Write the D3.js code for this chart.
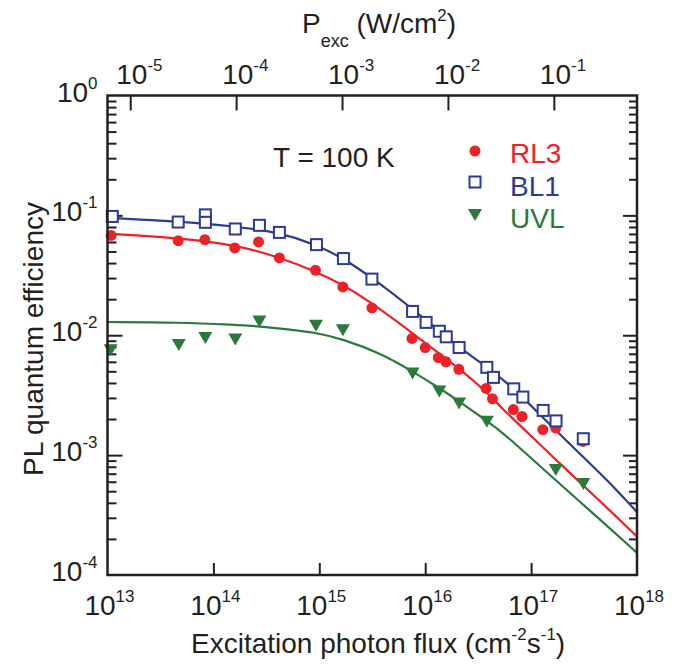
<!DOCTYPE html>
<html>
<head>
<meta charset='UTF-8'>
<title>PL quantum efficiency</title>
<script src='https://d3js.org/d3.v7.min.js'></script>
<style>
    body { margin: 0; background: #fff; }
    text { font-family: 'Liberation Sans', Arial, sans-serif; fill: #231f20; }
</style>
</head>
<body>
<div id='chart'></div>

<script type='text/javascript'>

    // axis ticks
    var fluxTicks = [1e13, 1e14, 1e15, 1e16, 1e17, 1e18];
    var effTicks = [1e-4, 1e-3, 1e-2, 1e-1, 1];
    var powerTicks = [1e-5, 1e-4, 1e-3, 1e-2, 1e-1];
    var photonEnergy = 6.1e-19; // J, converts photon flux to W/cm2

    // measured points
    var rl3Flux = [1.08e13, 4.65e13, 8.3e13, 1.59e14, 2.67e14, 4.2e14, 9.2e14, 1.67e15, 3.14e15, 7.5e15,
                   1.0e16, 1.33e16, 1.57e16, 2.08e16, 3.76e16, 4.32e16, 6.8e16, 8.2e16, 1.29e17, 1.71e17, 3.08e17];
    var rl3Eff = [0.068, 0.0615, 0.0627, 0.0535, 0.06, 0.0442, 0.0348, 0.0253, 0.0169, 0.0094,
                  0.0079, 0.0065, 0.006, 0.0052, 0.0036, 0.00295, 0.0024, 0.0021, 0.00163, 0.00168, 0.0013];

    var bl1Flux = [1.11e13, 4.65e13, 8.4e13, 8.4e13, 1.61e14, 2.72e14, 4.2e14, 9.4e14, 1.69e15, 3.14e15, 7.6e15,
                   1.02e16, 1.36e16, 1.58e16, 2.09e16, 3.82e16, 4.41e16, 6.86e16, 8.36e16, 1.30e17, 1.72e17, 3.11e17];
    var bl1Eff = [0.098, 0.088, 0.101, 0.0875, 0.077, 0.0826, 0.0721, 0.057, 0.0436, 0.0294, 0.0158,
                  0.0128, 0.0108, 0.0097, 0.0079, 0.0054, 0.00445, 0.00357, 0.00305, 0.00236, 0.00193, 0.00137];

    var uvlFlux = [1.07e13, 4.71e13, 8.4e13, 1.61e14, 2.72e14, 9.3e14, 1.67e15, 7.6e15, 1.36e16, 2.09e16, 3.82e16, 1.71e17, 3.11e17];
    var uvlEff = [0.0075, 0.0083, 0.0095, 0.0092, 0.013, 0.012, 0.011, 0.0048, 0.0034, 0.0027, 0.0019, 0.00075, 0.000575];

    // fitted curves
    var rl3FitFlux = [1e13, 4.65e13, 1.6e14, 4.2e14, 9.2e14, 1.67e15, 3.14e15, 7.6e15, 2.09e16, 3.81e16, 5.1e16, 9.8e16, 1.68e17, 3.1e17, 5.94e17, 1e18];
    var rl3FitEff = [0.0705, 0.0649, 0.057, 0.0447, 0.0341, 0.0264, 0.0186, 0.0104, 0.0053, 0.00336, 0.00254, 0.00147, 0.00093, 0.00056, 0.000326, 0.000209];

    var bl1FitFlux = [1e13, 4.65e13, 1.6e14, 4.2e14, 9.4e14, 1.7e15, 3.15e15, 7.6e15, 2.09e16, 3.81e16, 6.84e16, 1.3e17, 3.1e17, 5.94e17, 1e18];
    var bl1FitEff = [0.0957, 0.0891, 0.0811, 0.0721, 0.057, 0.0436, 0.0302, 0.0166, 0.00787, 0.00545, 0.00364, 0.00204, 0.000966, 0.000553, 0.000334];

    var uvlFitFlux = [1e13, 4.7e13, 1.6e14, 2.7e14, 5.4e14, 9.3e14, 1.67e15, 3.76e15, 7.6e15, 1.36e16, 2.09e16, 3.81e16, 5.1e16, 1.68e17, 3.1e17, 5.94e17, 1e18];
    var uvlFitEff = [0.0129, 0.0128, 0.0122, 0.0119, 0.0111, 0.0105, 0.00929, 0.0071, 0.00499, 0.00362, 0.00282, 0.00192, 0.00162, 0.000624, 0.000387, 0.000232, 0.000153];

    var seriesNames = ['RL3', 'BL1', 'UVL'];
    var seriesColors = ['#ec2227', '#2b3a94', '#2a7b3b'];

    var width = 689,
        height = 665;
    var margin = {top: 95.5, right: 52, bottom: 90, left: 107.5},
        w = width - margin.left - margin.right,
        h = height - margin.top - margin.bottom;

    var svg = d3.select('#chart').append('svg')
                .attr('width', width)
                .attr('height', height);
    var g = svg.append('g')
               .attr('transform', 'translate(' + margin.left + ',' + margin.top + ')');

    var x = d3.scaleLog().domain([1e13, 1e18]).range([0, w]),
        y = d3.scaleLog().domain([1e-4, 1]).range([h, 0]),
        xTop = d3.scaleLog().domain([1e13 * photonEnergy, 1e18 * photonEnergy]).range([0, w]);

    var minorEff = [];
    effTicks.slice(0, -1).forEach(function(d) {
        for (var k = 2; k < 10; k++) minorEff.push(d * k);
    });

    function tidy(sel) {
        sel.select('.domain').remove();
        sel.selectAll('line').attr('stroke', '#231f20').attr('stroke-width', 2);
    }

    // ticks, all pointing into the plot
    g.append('g')
     .attr('transform', 'translate(0,' + h + ')')
     .call(d3.axisBottom(x).tickValues(fluxTicks.slice(1, -1)).tickSize(-12).tickFormat(''))
     .call(tidy);

    g.append('g')
     .call(d3.axisTop(xTop).tickValues(powerTicks).tickSize(-15).tickFormat(''))
     .call(tidy);

    g.append('g')
     .call(d3.axisLeft(y).tickValues(minorEff).tickSize(-9).tickFormat(''))
     .call(tidy);
    g.append('g')
     .call(d3.axisLeft(y).tickValues(effTicks.slice(1, -1)).tickSize(-15).tickFormat(''))
     .call(tidy);

    g.append('g')
     .attr('transform', 'translate(' + w + ',0)')
     .call(d3.axisRight(y).tickValues(minorEff).tickSize(-8).tickFormat(''))
     .call(tidy);
    g.append('g')
     .attr('transform', 'translate(' + w + ',0)')
     .call(d3.axisRight(y).tickValues(effTicks.slice(1, -1)).tickSize(-14).tickFormat(''))
     .call(tidy);

    // power-of-ten labels
    function powerLabel(sel, d) {
        var e = Math.round(Math.log10(d));
        sel.append('tspan').attr('font-size', 28).text('10');
        sel.append('tspan').attr('font-size', 17).attr('dy', -13).text(e);
    }

    g.selectAll('.xlab')
     .data(fluxTicks)
     .enter().append('text')
       .attr('class', 'xlab')
       .attr('x', function(d) { return x(d) + 2; })
       .attr('y', h + 40)
       .attr('text-anchor', 'middle')
       .each(function(d) { powerLabel(d3.select(this), d); });

    g.selectAll('.ylab')
     .data(effTicks)
     .enter().append('text')
       .attr('class', 'ylab')
       .attr('x', -10)
       .attr('y', function(d) { return y(d) + 6; })
       .attr('text-anchor', 'end')
       .each(function(d) { powerLabel(d3.select(this), d); });

    g.selectAll('.toplab')
     .data(powerTicks)
     .enter().append('text')
       .attr('class', 'toplab')
       .attr('x', function(d) { return xTop(d) - 14; })
       .attr('y', -11.5)
       .each(function(d) { powerLabel(d3.select(this), d); });

    // fitted curves
    var line = d3.line()
                 .x(function(d) { return x(d[0]); })
                 .y(function(d) { return y(d[1]); })
                 .curve(d3.curveBasis);

    var fits = [d3.zip(rl3FitFlux, rl3FitEff), d3.zip(bl1FitFlux, bl1FitEff), d3.zip(uvlFitFlux, uvlFitEff)];
    fits.forEach(function(f, i) {
        g.append('path')
         .datum(f)
         .attr('fill', 'none')
         .attr('stroke', seriesColors[i])
         .attr('stroke-width', 2.2)
         .attr('d', line);
    });

    // markers
    var triangle = 'M-7,-6L7,-6L0,6Z';

    function drawCircle(sel, color) {
        sel.append('circle').attr('r', 5.5).attr('fill', color);
    }
    function drawSquare(sel, color) {
        sel.append('rect').attr('x', -5.5).attr('y', -5.5).attr('width', 11).attr('height', 11)
           .attr('fill', '#fff').attr('stroke', color).attr('stroke-width', 2);
    }
    function drawTriangle(sel, color) {
        sel.append('path').attr('d', triangle).attr('fill', color);
    }
    var drawers = [drawCircle, drawSquare, drawTriangle];

    function plotPoints(xs, ys, i) {
        g.append('g').selectAll('g')
         .data(d3.zip(xs, ys))
         .enter().append('g')
           .attr('transform', function(d) { return 'translate(' + x(d[0]) + ',' + y(d[1]) + ')'; })
           .each(function() { drawers[i](d3.select(this), seriesColors[i]); });
    }
    plotPoints(rl3Flux, rl3Eff, 0);
    plotPoints(uvlFlux, uvlEff, 2);
    plotPoints(bl1Flux, bl1Eff, 1);

    // frame
    g.append('rect')
     .attr('width', w)
     .attr('height', h)
     .attr('fill', 'none')
     .attr('stroke', '#231f20')
     .attr('stroke-width', 2.5);

    // legend
    var legendMarkY = [55.5, 86.5, 119.5],
        legendTextY = [67.5, 100.5, 132.5];
    seriesNames.forEach(function(name, i) {
        var m = g.append('g').attr('transform', 'translate(367.5,' + legendMarkY[i] + ')');
        drawers[i](m, seriesColors[i]);
        g.append('text')
         .attr('x', 402.5)
         .attr('y', legendTextY[i])
         .attr('font-size', 28)
         .style('fill', seriesColors[i])
         .text(name);
    });

    g.append('text')
     .attr('x', 165.5)
     .attr('y', 71.5)
     .attr('font-size', 28)
     .text('T = 100 K');

    // axis titles
    var xTitle = g.append('text')
                  .attr('x', 83.5)
                  .attr('y', h + 78)
                  .attr('font-size', 28);
    xTitle.append('tspan').text('Excitation photon flux (cm');
    xTitle.append('tspan').attr('font-size', 17).attr('dy', -13).text('-2');
    xTitle.append('tspan').attr('dy', 13).text('s');
    xTitle.append('tspan').attr('font-size', 17).attr('dy', -13).text('-1');
    xTitle.append('tspan').attr('dy', 13).text(')');

    var topTitle = g.append('text')
                    .attr('x', 194.5)
                    .attr('y', -62.5)
                    .attr('font-size', 28);
    topTitle.append('tspan').text('P');
    topTitle.append('tspan').attr('font-size', 18).attr('dy', 14).text('exc');
    topTitle.append('tspan').attr('dy', -14).text(' (W/cm');
    topTitle.append('tspan').attr('font-size', 17).attr('dy', -12).text('2');
    topTitle.append('tspan').attr('dy', 12).text(')');

    g.append('text')
     .attr('transform', 'rotate(-90)')
     .attr('x', -243.5)
     .attr('y', -64.5)
     .attr('text-anchor', 'middle')
     .attr('font-size', 28)
     .text('PL quantum efficiency');

</script>
</body>
</html>
